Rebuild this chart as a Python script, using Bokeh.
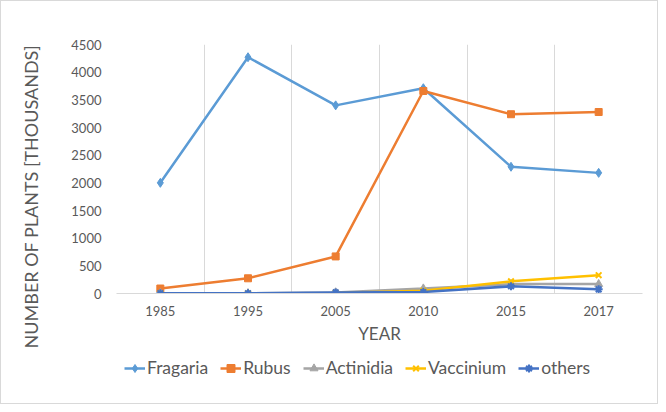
from bokeh.plotting import figure
from bokeh.layouts import column
from bokeh.models import Legend, LegendItem, FixedTicker, Range1d
from bokeh.embed import file_html
from bokeh.resources import INLINE

years = ["1985", "1995", "2005", "2010", "2015", "2017"]
fragaria = [2000, 4270, 3400, 3710, 2290, 2180]
rubus = [90, 275, 670, 3660, 3240, 3280]
actinidia = [5, 5, 20, 90, 170, 170]
vaccinium = [0, 0, 10, 50, 220, 330]
others = [5, 5, 20, 25, 130, 75]
y_title = "NUMBER OF PLANTS [THOUSANDS]"
x_title = "YEAR"

series = [
    ("Fragaria", fragaria, "#5B9BD5", "diamond", 9),
    ("Rubus", rubus, "#ED7D31", "square", 7),
    ("Actinidia", actinidia, "#A5A5A5", "triangle", 8),
    ("Vaccinium", vaccinium, "#FFC000", "x", 8),
    ("others", others, "#4472C4", "asterisk", 8),
]

FONT = "Lato"
TXT = "#595959"
GRID = "#D9D9D9"
H1 = 356
LH = 46
W = 656


def bare(fig):
    fig.axis.visible = False
    fig.grid.visible = False
    fig.outline_line_color = None


xs = list(range(len(years)))

p = figure(width=W, height=H1, output_backend="svg", toolbar_location=None,
           x_range=Range1d(-0.5, len(years) - 0.5), y_range=Range1d(0, 4500),
           min_border_left=115, min_border_right=15, min_border_top=43, min_border_bottom=64)
p.outline_line_color = None

p.xaxis.ticker = FixedTicker(ticks=xs)
p.xaxis.major_label_overrides = {i: y for i, y in enumerate(years)}
p.xaxis.axis_line_color = GRID
p.xaxis.major_tick_line_color = None
p.xaxis.minor_tick_line_color = None
p.xaxis.major_label_text_font = FONT
p.xaxis.major_label_text_font_size = "13px"
p.xaxis.major_label_text_color = TXT
p.xaxis.major_label_standoff = 6
p.xaxis.axis_label = x_title
p.xaxis.axis_label_text_font = FONT
p.xaxis.axis_label_text_font_size = "17px"
p.xaxis.axis_label_text_font_style = "normal"
p.xaxis.axis_label_text_color = TXT
p.xaxis.axis_label_standoff = 4

p.yaxis.ticker = FixedTicker(ticks=list(range(0, 4501, 500)))
p.yaxis.axis_line_color = None
p.yaxis.major_tick_line_color = None
p.yaxis.minor_tick_line_color = None
p.yaxis.major_label_text_font = FONT
p.yaxis.major_label_text_font_size = "13px"
p.yaxis.major_label_text_color = TXT
p.yaxis.major_label_standoff = 9
# trailing no-break spaces push the centred title down to where the reference has it
p.yaxis.axis_label = y_title + "\u00a0" * 12
p.yaxis.axis_label_text_font = FONT
p.yaxis.axis_label_text_font_size = "18px"
p.yaxis.axis_label_text_font_style = "normal"
p.yaxis.axis_label_text_color = TXT
p.yaxis.axis_label_standoff = 26

p.xgrid.ticker = FixedTicker(ticks=[i - 0.5 for i in range(len(years) + 1)])
p.xgrid.grid_line_color = GRID
p.ygrid.grid_line_color = None

# legend strip (its own small canvas; sample glyphs are out of its view)
lf = figure(width=W, height=LH, output_backend="svg", toolbar_location=None,
            x_range=Range1d(100, 101), y_range=Range1d(100000, 100001), min_border=0)
bare(lf)

items = []
for name, vals, color, marker, size in series:
    lw = 2 if marker in ("x", "asterisk") else 1
    p.line(xs, vals, line_color=color, line_width=2.5)
    p.scatter(xs, vals, marker=marker, size=size, fill_color=color,
              line_color=color, line_width=lw)
    g1 = lf.line(xs, vals, line_color=color, line_width=2.5)
    g2 = lf.scatter(xs, vals, marker=marker, size=size, fill_color=color,
                    line_color=color, line_width=lw)
    items.append(LegendItem(label=name, renderers=[g1, g2]))

legend = Legend(items=items, orientation="horizontal", location=(8, 25),
                label_text_font=FONT, label_text_font_size="17.5px", label_text_color=TXT,
                glyph_width=21, glyph_height=20, label_standoff=2, spacing=12,
                padding=0, margin=0, border_line_color=None, background_fill_alpha=0)
lf.add_layout(legend, "center")

layout = column(p, lf)
layout.styles = {"border": "1px solid #D9D9D9"}

open("out.html", "w").write(file_html(layout, INLINE))
